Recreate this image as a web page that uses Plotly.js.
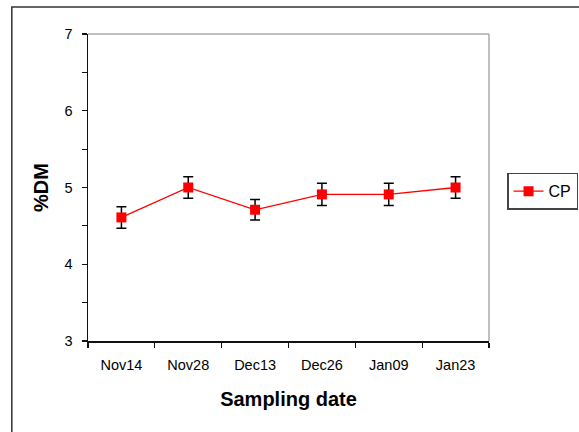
<!DOCTYPE html>
<html><head><meta charset="utf-8">
<script src="https://cdn.plot.ly/plotly-3.0.1.min.js"></script>
<style>html,body{margin:0;padding:0;background:#fff}#c{width:579px;height:432px}</style>
</head><body><div id="c"></div>
<script>
const dates = ["Nov14","Nov28","Dec13","Dec26","Jan09","Jan23"];
const cpValues = [4.61, 5.00, 4.71, 4.91, 4.91, 5.00];
const cpErrors = [0.14, 0.14, 0.135, 0.145, 0.145, 0.14];

const trace = {
  x: dates, y: cpValues, type: 'scatter', mode: 'lines+markers', name: 'CP',
  line: {color: '#ff0000', width: 1.3},
  marker: {symbol: 'square', size: 10, color: '#ff0000'},
  error_y: {type: 'data', array: cpErrors, visible: true, color: '#000', thickness: 1.5, width: 5}
};
const font = "Liberation Sans, Arial, sans-serif";
const layout = {
  width: 579, height: 432,
  margin: {l: 88, r: 90, t: 34, b: 91, autoexpand: false},
  paper_bgcolor: '#fff', plot_bgcolor: '#fff',
  font: {family: font, size: 14, color: '#000'},
  showlegend: true,
  legend: {x: 1.045, y: 0.548, xanchor: 'left', yanchor: 'top', bordercolor: '#444', borderwidth: 1.5,
           font: {family: font, size: 16, color: '#000'}, bgcolor: '#fff', tracegroupgap: 0},
  xaxis: {type: 'category', range: [-0.5, 5.5], showgrid: false, zeroline: false,
          showline: true, linecolor: '#111', linewidth: 1.5,
          ticks: 'outside', tickson: 'boundaries', ticklen: 5, tickcolor: '#111', tickwidth: 1.2,
          ticklabelstandoff: 10,
          tickfont: {family: font, size: 14.5},
          title: {text: '<b>Sampling date</b>', font: {family: font, size: 20}, standoff: 20}},
  yaxis: {range: [3, 7], dtick: 1, showgrid: false, zeroline: false,
          showline: true, linecolor: '#111', linewidth: 1.5,
          ticks: 'outside', ticklen: 5, tickcolor: '#111', tickwidth: 1.2,
          ticklabelstandoff: 6,
          minor: {dtick: 0.5, ticks: 'outside', ticklen: 5, tickcolor: '#111', tickwidth: 1.2, showgrid: false},
          tickfont: {family: font, size: 14.5},
          title: {text: '<b>%DM</b>', font: {family: font, size: 20}, standoff: 10}},
  shapes: [
    {type: 'line', xref: 'paper', yref: 'paper', x0: 0, x1: 1, y0: 1, y1: 1, line: {color: '#aaa', width: 1.5}},
    {type: 'line', xref: 'paper', yref: 'paper', x0: 1, x1: 1, y0: 0, y1: 1, line: {color: '#aaa', width: 1.5}},
    {type: 'rect', xref: 'paper', yref: 'paper', x0: -0.19, x1: 2, y0: -1, y1: 1.088, line: {color: '#333', width: 1.5}, fillcolor: 'rgba(0,0,0,0)'}
  ]
};
Plotly.newPlot('c', [trace], layout, {displayModeBar: false, staticPlot: true});
</script></body></html>
